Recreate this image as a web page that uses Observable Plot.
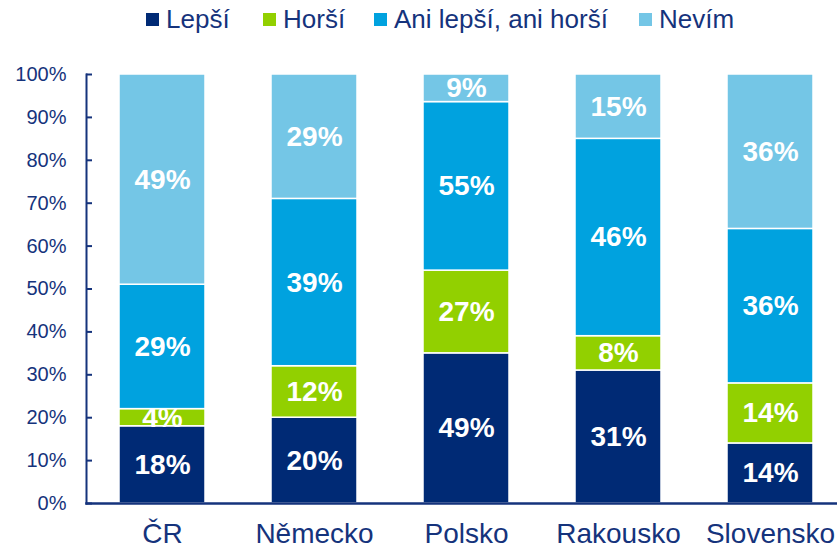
<!DOCTYPE html>
<html>
<head>
<meta charset="utf-8">
<script src="https://cdn.jsdelivr.net/npm/d3@7"></script>
<script src="https://cdn.jsdelivr.net/npm/@observablehq/plot@0.6"></script>
<style>
html, body { margin: 0; padding: 0; overflow: hidden; background: #fff; }
body { width: 837px; height: 550px; font-family: "Liberation Sans", Arial, sans-serif; }
#legend { position: relative; height: 44px; white-space: nowrap; }
.item { position: absolute; top: 4px; display: flex; align-items: center; font-size: 26px; line-height: 30px; color: #15337c; }
.sw { width: 13px; height: 13px; margin-right: 7px; display: inline-block; }
</style>
</head>
<body>
<div id="legend"></div>
<div id="chart"></div>
<script>
const categories = ["ČR", "Německo", "Polsko", "Rakousko", "Slovensko"];
const seriesNames = ["Lepší", "Horší", "Ani lepší, ani horší", "Nevím"];
const lepsi = [18, 20, 49, 31, 14];
const horsi = [4, 12, 27, 8, 14];
const ani = [29, 39, 55, 46, 36];
const nevim = [49, 29, 9, 15, 36];
const yTicks = [0, 0.1, 0.2, 0.3, 0.4, 0.5, 0.6, 0.7, 0.8, 0.9, 1];
const colors = ["#002a75", "#92d000", "#00a2df", "#74c6e6"];
const navy = "#15337c";

const seriesValues = [lepsi, horsi, ani, nevim];
const data = [];
seriesNames.forEach((s, si) => {
  categories.forEach((c, ci) => data.push({cat: c, series: s, value: seriesValues[si][ci]}));
});

// legend (item left positions are layout, not data)
const legendLeft = [146, 263, 374, 639];
const leg = document.getElementById("legend");
seriesNames.forEach((s, i) => {
  const it = document.createElement("div");
  it.className = "item";
  it.style.left = legendLeft[i] + "px";
  const sw = document.createElement("span");
  sw.className = "sw";
  sw.style.background = colors[i];
  it.appendChild(sw);
  it.appendChild(document.createTextNode(s));
  leg.appendChild(it);
});

const chart = Plot.plot({
  width: 837,
  height: 506,
  marginLeft: 86,
  marginRight: -9,
  marginTop: 30,
  marginBottom: 47,
  style: {fontFamily: "'Liberation Sans', Arial, sans-serif", background: "white"},
  x: {domain: categories, paddingInner: 0.434, paddingOuter: 0.217, label: null},
  y: {domain: [0, 1], label: null},
  color: {domain: seriesNames, range: colors},
  marks: [
    Plot.barY(data, Plot.stackY({x: "cat", y: "value", fill: "series", order: seriesNames, offset: "normalize", stroke: "white", strokeWidth: 1.5})),
    Plot.text(data, Plot.stackY({x: "cat", y: "value", z: "series", order: seriesNames, offset: "normalize", text: d => d.value + "%", fill: "white", fontSize: 28, fontWeight: "bold"})),
    Plot.axisY({ticks: yTicks, tickSize: 0, tickPadding: 20, tickFormat: d => Math.round(d * 100) + "%", fontSize: 20, color: navy, label: null}),
    Plot.axisY({ticks: yTicks, tickSize: 6, dx: 6, tickFormat: () => "", stroke: navy, strokeWidth: 2, label: null}),
    Plot.axisX({tickSize: 0, tickPadding: 20, fontSize: 28, color: navy, label: null}),
    Plot.frame({anchor: "left", stroke: navy, strokeWidth: 2}),
    Plot.frame({anchor: "bottom", stroke: navy, strokeWidth: 2.5})
  ]
});
document.getElementById("chart").appendChild(chart);
</script>
</body>
</html>
